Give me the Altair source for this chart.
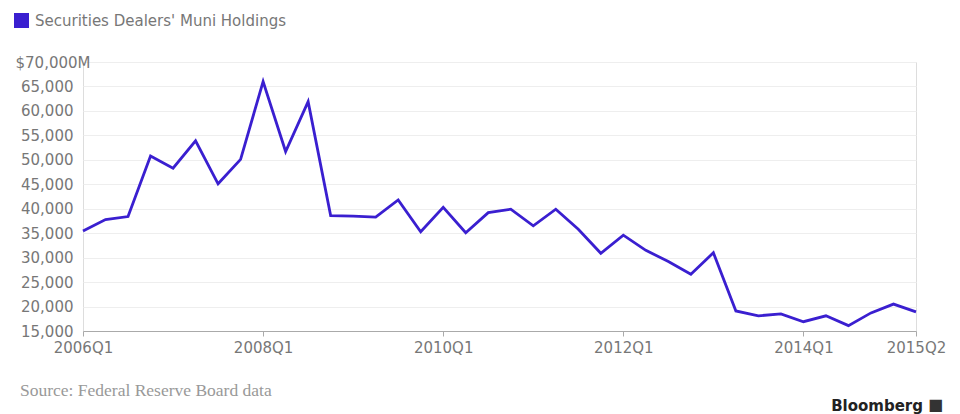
import altair as alt
import pandas as pd

# ---- data ----
quarters = [f"{y}Q{q}" for y in range(2006, 2016) for q in range(1, 5)][:38]
holdings = [35450, 37800, 38400, 50800, 48300, 53900, 45100, 50100, 66000, 51700,
            61900, 38600, 38500, 38300, 41800, 35300, 40300, 35100, 39200, 39900,
            36500, 39900, 35800, 30900, 34600, 31500, 29200, 26600, 31000, 19100,
            18100, 18500, 16900, 18100, 16100, 18700, 20500, 18900]
x_tick_labels = ["2006Q1", "2008Q1", "2010Q1", "2012Q1", "2014Q1", "2015Q2"]
y_ticks = list(range(15000, 70001, 5000))
series_name = "Securities Dealers' Muni Holdings"
source_text = "Source: Federal Reserve Board data"
brand_text = "Bloomberg"

LINE = "#3a1fd0"
FONT = "DejaVu Sans"

df = pd.DataFrame({"quarter": quarters, "value": holdings, "series": series_name})

line = alt.Chart(df).mark_line(strokeWidth=2.8, strokeJoin="miter").encode(
    x=alt.X("quarter:O", sort=quarters, title=None,
            scale=alt.Scale(type="point", padding=0),
            axis=alt.Axis(values=x_tick_labels, labelAngle=0, labelFont=FONT,
                          labelFontSize=15, labelColor="#777", domainColor="#aaa",
                          tickColor="#aaa", tickSize=5, labelPadding=4, grid=False)),
    y=alt.Y("value:Q", title=None,
            scale=alt.Scale(domain=[15000, 70000], nice=False, zero=False),
            axis=alt.Axis(values=y_ticks, domain=False, ticks=False,
                          labelFont=FONT, labelFontSize=15, labelColor="#777",
                          gridColor="#eeeeee", gridWidth=1,
                          labelExpr="datum.value == 70000 ? '$70,000M' : format(datum.value, ',')",
                          labelPadding={"condition": {"test": "datum.value == 70000", "value": -7},
                                        "value": 10})),
    color=alt.Color("series:N", scale=alt.Scale(domain=[series_name], range=[LINE]),
                    legend=alt.Legend(title=None, orient="none", legendX=-69, legendY=-49,
                                      symbolType="square", symbolSize=225,
                                      symbolFillColor=LINE, symbolStrokeWidth=0,
                                      labelFont=FONT, labelFontSize=15, labelColor="#777",
                                      labelLimit=0, labelOffset=6, padding=0))
)

source = alt.Chart(pd.DataFrame({"t": [source_text]})).mark_text(
    align="left", baseline="middle", font="Liberation Serif", fontSize=17.5, color="#999"
).encode(x=alt.value(-63), y=alt.value(329), text="t:N")

brand = alt.Chart(pd.DataFrame({"t": [brand_text]})).mark_text(
    align="right", baseline="middle", font=FONT, fontSize=15, fontWeight="bold", color="#222"
).encode(x=alt.value(840), y=alt.value(344), text="t:N")

icon = alt.Chart(pd.DataFrame({"t": ["■"]})).mark_text(
    align="left", baseline="middle", font=FONT, fontSize=16, color="#333"
).encode(x=alt.value(845), y=alt.value(343), text="t:N")

chart = alt.layer(line, source, brand, icon).properties(
    width=833, height=269,
    autosize=alt.AutoSizeParams(type="none"),
    padding={"left": 83, "top": 62, "right": 44, "bottom": 83},
).configure_view(stroke=None).configure(background="white")

chart.save("out.html", embed_options={"renderer": "svg", "actions": False})
